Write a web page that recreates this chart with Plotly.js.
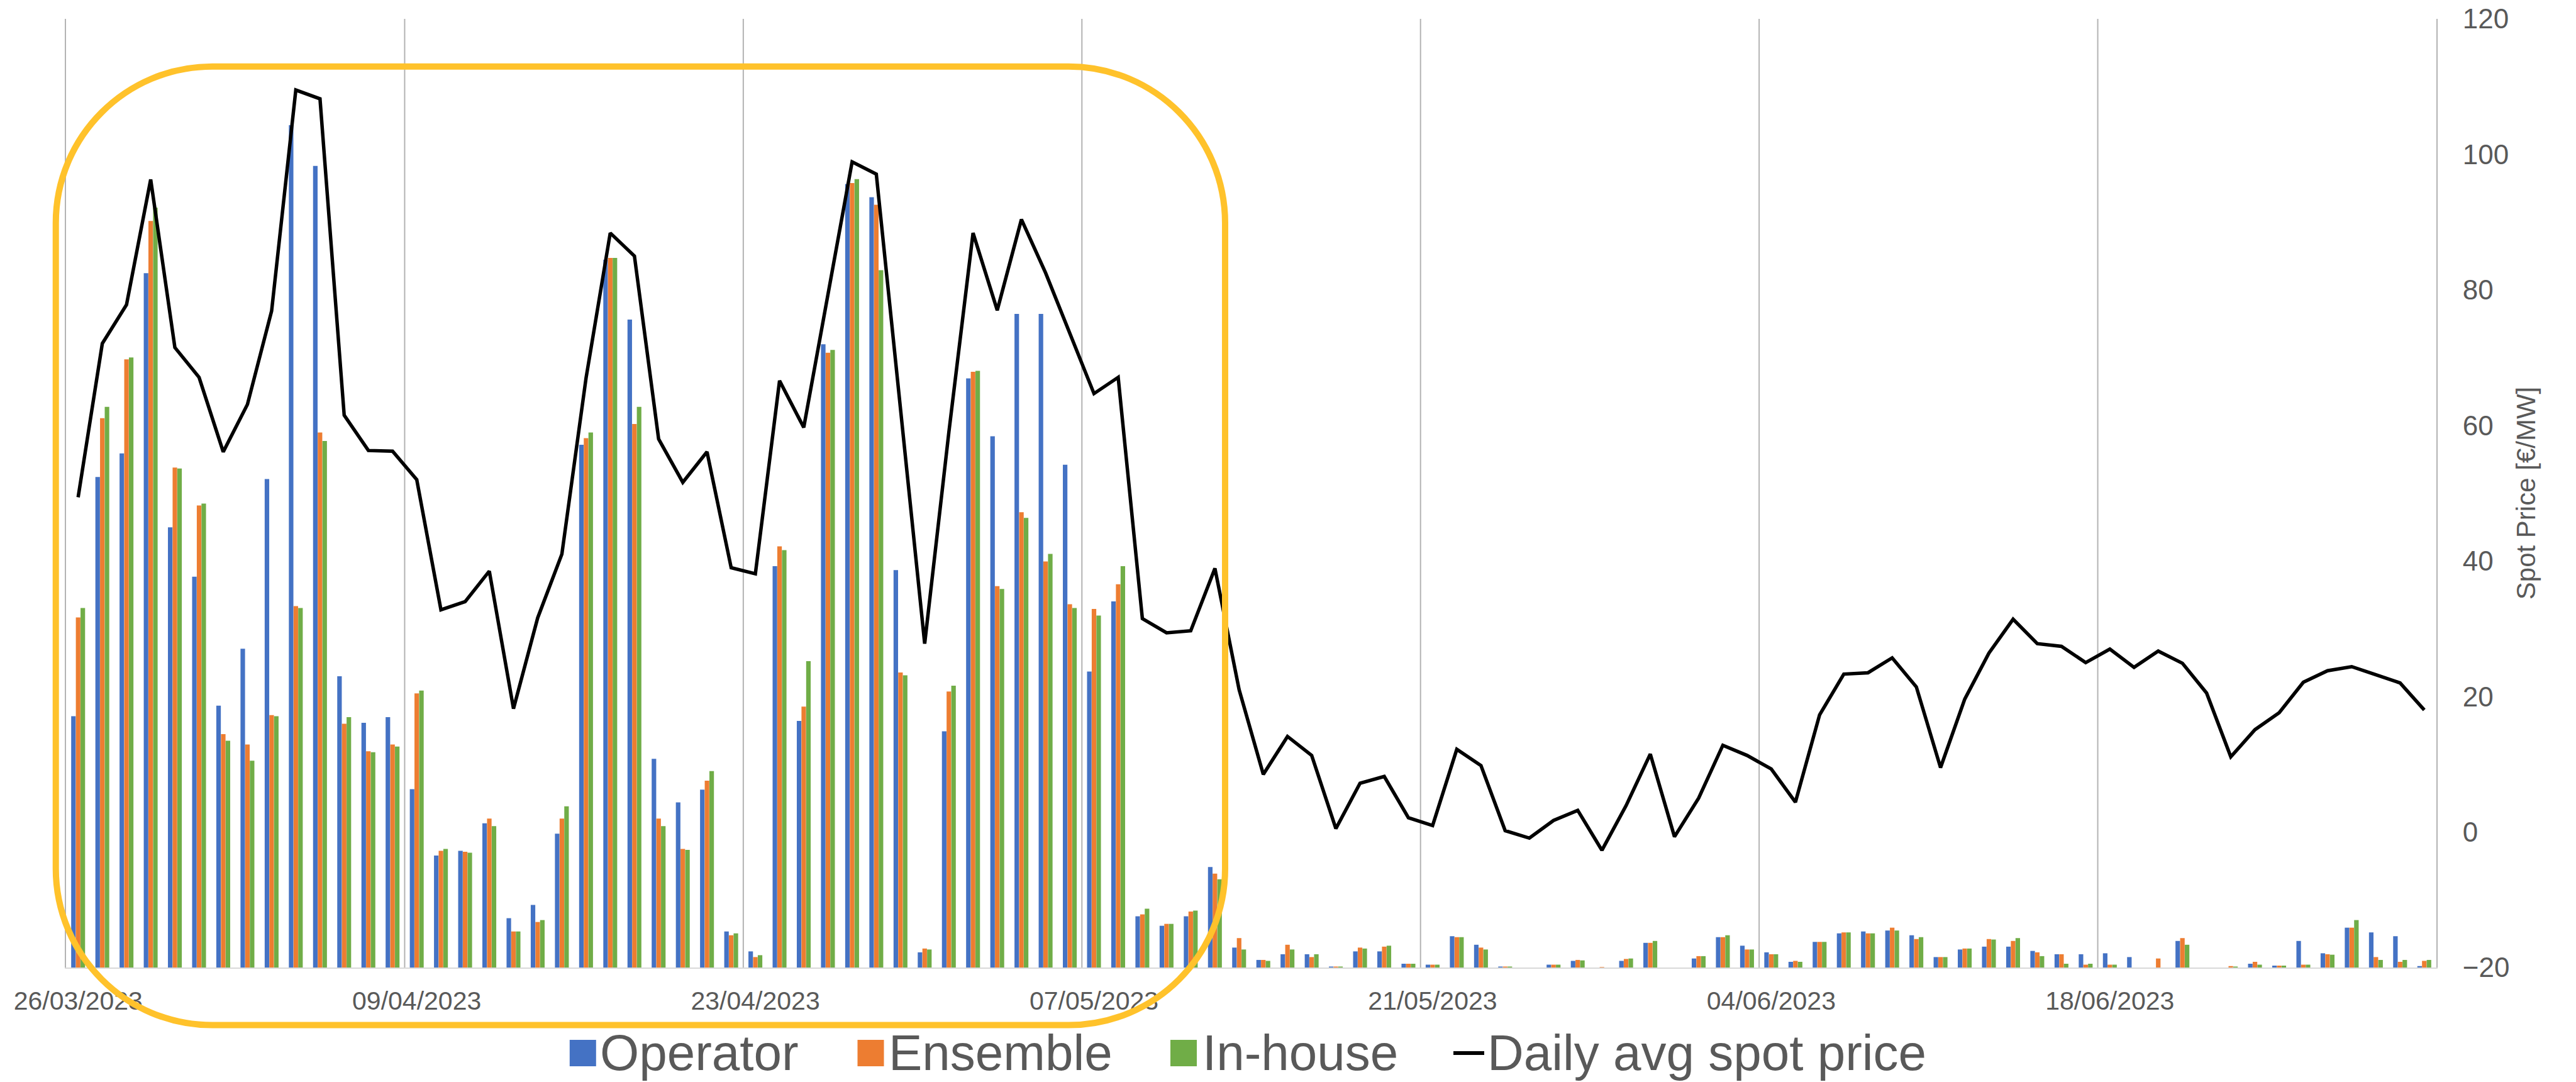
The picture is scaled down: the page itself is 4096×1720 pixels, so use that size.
<!DOCTYPE html>
<html>
<head>
<meta charset="utf-8">
<script src="https://cdn.plot.ly/plotly-3.0.1.min.js"></script>
<style>html,body{margin:0;padding:0;background:#fff;}#chart{width:4096px;height:1720px;}</style>
</head>
<body>
<div id="chart"></div>
<script>
const dates = [
"26/03/2023","27/03/2023","28/03/2023","29/03/2023","30/03/2023","31/03/2023",
"01/04/2023","02/04/2023","03/04/2023","04/04/2023","05/04/2023","06/04/2023","07/04/2023","08/04/2023","09/04/2023","10/04/2023",
"11/04/2023","12/04/2023","13/04/2023","14/04/2023","15/04/2023","16/04/2023","17/04/2023","18/04/2023","19/04/2023","20/04/2023",
"21/04/2023","22/04/2023","23/04/2023","24/04/2023","25/04/2023","26/04/2023","27/04/2023","28/04/2023","29/04/2023","30/04/2023",
"01/05/2023","02/05/2023","03/05/2023","04/05/2023","05/05/2023","06/05/2023","07/05/2023","08/05/2023","09/05/2023","10/05/2023",
"11/05/2023","12/05/2023","13/05/2023","14/05/2023","15/05/2023","16/05/2023","17/05/2023","18/05/2023","19/05/2023","20/05/2023",
"21/05/2023","22/05/2023","23/05/2023","24/05/2023","25/05/2023","26/05/2023","27/05/2023","28/05/2023","29/05/2023","30/05/2023","31/05/2023",
"01/06/2023","02/06/2023","03/06/2023","04/06/2023","05/06/2023","06/06/2023","07/06/2023","08/06/2023","09/06/2023","10/06/2023",
"11/06/2023","12/06/2023","13/06/2023","14/06/2023","15/06/2023","16/06/2023","17/06/2023","18/06/2023","19/06/2023","20/06/2023",
"21/06/2023","22/06/2023","23/06/2023","24/06/2023","25/06/2023","26/06/2023","27/06/2023","28/06/2023","29/06/2023","30/06/2023",
"01/07/2023"
];
// labelled ticks (every 14 days)
const tickDates = ["26/03/2023","09/04/2023","23/04/2023","07/05/2023","21/05/2023","04/06/2023","18/06/2023"];

// bar values (hidden left axis, 0..100 scale)
const operator = [
26.5,51.7,54.2,73.2,46.4,41.2,27.6,33.6,51.5,88.8,
84.5,30.7,25.8,26.4,18.8,11.8,12.3,15.2,5.2,6.6,
14.1,55.1,74.6,68.3,22.0,17.4,18.75,3.8,1.7,42.3,
26.0,65.7,82.6,81.2,41.9,1.6,24.9,62.1,56.0,68.9,
68.9,53.0,31.2,38.6,5.4,4.4,5.4,10.6,2.1,0.8,
1.4,1.4,0.1,1.7,1.7,0.4,0.3,3.3,2.4,0.1,
0,0.3,0.7,-0.1,0.7,2.6,0,0.95,3.2,2.3,
1.6,0.6,2.7,3.6,3.8,3.9,3.4,1.1,1.9,2.2,
2.2,1.75,1.4,1.4,1.5,1.1,0,2.8,0,0,
0.4,0.2,2.8,1.5,4.2,3.7,3.3,0.15
];
const ensemble = [
36.9,57.9,64.1,78.7,52.7,48.7,24.6,23.5,26.6,38.1,
56.4,25.7,22.8,23.5,28.9,12.3,12.2,15.7,3.8,4.8,
15.7,55.8,74.8,57.3,15.7,12.5,19.7,3.4,1.1,44.4,
27.5,64.8,82.7,80.4,31.1,2.0,29.1,62.8,40.2,48.0,
42.8,38.3,37.8,40.4,5.6,4.6,5.9,9.9,3.1,0.8,
2.4,1.1,0.1,2.1,2.2,0.4,0.3,3.2,2.1,0.1,
0,0.3,0.8,0.05,0.9,2.6,0,1.2,3.2,1.9,
1.4,0.7,2.7,3.7,3.6,4.2,3.0,1.1,2.0,3.0,
2.8,1.6,1.4,0.3,0.3,0,0.95,3.1,0,0.15,
0.6,0.2,0.3,1.4,4.2,1.1,0.6,0.7
];
const inhouse = [
37.9,59.1,64.3,80.1,52.6,48.9,23.9,21.8,26.5,37.9,
55.5,26.4,22.7,23.3,29.2,12.5,12.1,14.9,3.8,5.0,
17.0,56.4,74.8,59.1,14.9,12.4,20.7,3.6,1.3,44.0,
32.3,65.1,83.1,73.5,30.8,1.9,29.7,62.9,39.9,47.4,
43.6,37.9,37.1,42.3,6.2,4.6,6.0,9.3,1.9,0.7,
1.9,1.4,0.1,2.0,2.3,0.4,0.3,3.2,1.9,0.1,
0,0.3,0.75,0,0.95,2.8,0,1.2,3.4,1.9,
1.4,0.6,2.7,3.7,3.6,3.9,3.2,1.1,2.0,2.95,
3.1,1.2,0.4,0.4,0.3,0,0,2.4,0,0.1,
0.3,0.2,0.3,1.35,5.0,0.8,0.8,0.8
];
// daily average spot price (right axis)
const spotPrice = [
49.4,72.1,77.8,96.3,71.5,67.1,56.1,63.1,76.9,109.5,
108.2,61.5,56.3,56.2,52.0,32.8,34.0,38.5,18.2,31.6,
41.0,67.0,88.4,85.0,58.0,51.6,56.1,39.0,38.1,66.6,
59.7,79.0,98.9,97.1,63.0,27.8,59.0,88.4,77.0,90.4,
82.5,73.5,64.7,67.1,31.5,29.4,29.7,38.9,21.0,8.5,
14.1,11.3,0.5,7.2,8.2,2.1,0.95,12.2,9.8,0.2,
-0.9,1.7,3.2,-2.7,3.9,11.5,-0.7,5.0,12.8,11.3,
9.3,4.4,17.3,23.3,23.5,25.7,21.4,9.5,19.6,26.4,
31.4,27.8,27.4,25.0,27.0,24.3,26.7,24.9,20.5,11.1,
15.1,17.6,22.1,23.8,24.4,23.2,22.0,18.0
];
const seriesNames = ["Operator","Ensemble","In-house","Daily avg spot price"];
const seriesColors = ["#4472C4","#ED7D31","#70AD47","#000000"];

const W = 4096, H = 1720;
const M = {l:105, r:222, t:30, b:182};
const PL = M.l, PR = W - M.r, PT = M.t, PB = H - M.b;
function fx(px){ return (px - PL) / (PR - PL); }
function fy(py){ return (PB - py) / (PB - PT); }

const FONT = "Liberation Sans, Arial, sans-serif";
const GREY = "#595959";
const GRID = "#b3b3b3";

const traces = [
  {type:'bar', x:dates, y:operator, name:seriesNames[0], marker:{color:seriesColors[0]}, hoverinfo:'skip', showlegend:false},
  {type:'bar', x:dates, y:ensemble, name:seriesNames[1], marker:{color:seriesColors[1]}, hoverinfo:'skip', showlegend:false},
  {type:'bar', x:dates, y:inhouse, name:seriesNames[2], marker:{color:seriesColors[2]}, hoverinfo:'skip', showlegend:false},
  {type:'scatter', mode:'lines', x:dates, y:spotPrice, yaxis:'y2', name:seriesNames[3],
   line:{color:seriesColors[3], width:5.5}, hoverinfo:'skip', showlegend:false}
];

const shapes = [];
// vertical gridlines on the category boundary before each labelled date
tickDates.forEach(d=>{
  const i = dates.indexOf(d);
  if(i > 0){
    shapes.push({type:'line', xref:'x', yref:'paper', x0:i-0.5, x1:i-0.5, y0:0, y1:1,
      line:{color:GRID, width:2}, layer:'below'});
  }
});

// rounded highlight box (pixel geometry -> paper)
const box = {L:88.7, R:1948, T:105.7, B:1629.6, r:249};
const rx = box.r/(PR-PL), ry = box.r/(PB-PT), k = 0.5523;
const bL = fx(box.L), bR = fx(box.R), bT = fy(box.T), bB = fy(box.B);
function p(x,y){ return x.toFixed(5)+','+y.toFixed(5); }
const boxPath =
  'M'+p(bL+rx,bT)+' L'+p(bR-rx,bT)+
  ' C'+p(bR-rx+k*rx,bT)+' '+p(bR,bT-ry+k*ry)+' '+p(bR,bT-ry)+
  ' L'+p(bR,bB+ry)+
  ' C'+p(bR,bB+ry-k*ry)+' '+p(bR-rx+k*rx,bB)+' '+p(bR-rx,bB)+
  ' L'+p(bL+rx,bB)+
  ' C'+p(bL+rx-k*rx,bB)+' '+p(bL,bB+ry-k*ry)+' '+p(bL,bB+ry)+
  ' L'+p(bL,bT-ry)+
  ' C'+p(bL,bT-ry+k*ry)+' '+p(bL+rx-k*rx,bT)+' '+p(bL+rx,bT)+' Z';
shapes.push({type:'path', xref:'paper', yref:'paper', path:boxPath, line:{color:'#FFC22B', width:10}, layer:'above'});

// custom legend
const legY = 1674, sq = 42;
const legSquares = [926.8, 1384.5, 1882];
const legText = [955.5, 1415, 1913.7, 2367];
legSquares.forEach((cx,i)=>{
  shapes.push({type:'rect', xref:'paper', yref:'paper',
    x0:fx(cx-sq/2), x1:fx(cx+sq/2), y0:fy(legY+sq/2), y1:fy(legY-sq/2),
    fillcolor:seriesColors[i], line:{width:0}});
});
shapes.push({type:'line', xref:'paper', yref:'paper', x0:fx(2311), x1:fx(2360), y0:fy(legY), y1:fy(legY),
  line:{color:'#000000', width:6}});
const annotations = seriesNames.map((n,i)=>({
  xref:'paper', yref:'paper', x:fx(legText[i]-3), y:fy(1719), xanchor:'left', yanchor:'bottom',
  text:n, showarrow:false, borderpad:0, font:{family:FONT, size:80, color:GREY}
}));

const layout = {
  width:W, height:H,
  margin:{l:M.l, r:M.r, t:M.t, b:M.b, pad:0},
  paper_bgcolor:'#ffffff', plot_bgcolor:'#ffffff',
  font:{family:FONT, color:GREY},
  barmode:'group', bargap:0.42, bargroupgap:0.03,
  showlegend:false,
  xaxis:{type:'category', range:[-0.5, 97.5], tickmode:'array', tickvals:tickDates, ticktext:tickDates,
    ticks:'', tickangle:0, showgrid:false,
    showline:true, linecolor:'#d9d9d9', linewidth:2, zeroline:false,
    tickfont:{family:FONT, size:41, color:GREY}, ticklabelstandoff:16, automargin:false},
  yaxis:{range:[0,100], showticklabels:false, showgrid:false, zeroline:false, ticks:'',
    showline:true, linecolor:GRID, linewidth:2, automargin:false, fixedrange:true},
  yaxis2:{overlaying:'y', side:'right', range:[-20,120], tick0:-20, dtick:20, tickmode:'linear',
    showgrid:false, zeroline:false, ticks:'', showline:true, linecolor:GRID, linewidth:2,
    tickfont:{family:FONT, size:44, color:GREY}, ticklabelstandoff:31,
    title:{text:'Spot Price [€/MW]', font:{family:FONT, size:42, color:GREY}, standoff:12},
    automargin:false},
  shapes:shapes,
  annotations:annotations
};

Plotly.newPlot('chart', traces, layout, {staticPlot:true, displayModeBar:false});
</script>
</body>
</html>
